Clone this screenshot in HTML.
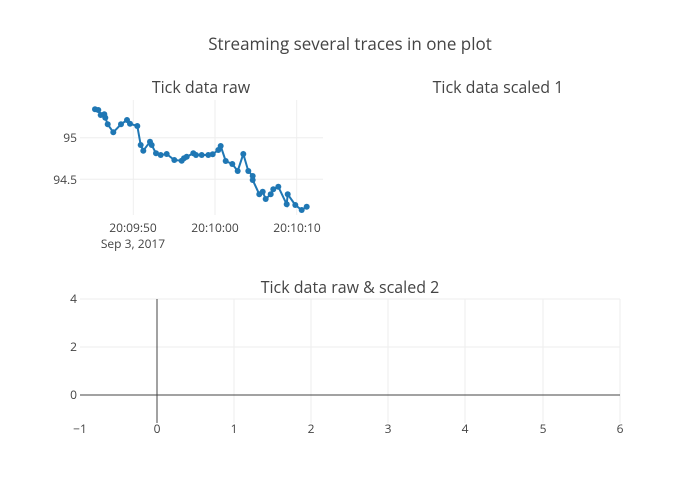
<!DOCTYPE html><html><head><style>body{margin:0;background:#fff}svg{display:block}text{font-family:"Open Sans","Liberation Sans",sans-serif;fill:#444}</style></head><body>
<svg width="700" height="500" xmlns="http://www.w3.org/2000/svg">
<text x="350" y="50" font-size="17" text-anchor="middle">Streaming several traces in one plot</text>
<text x="201" y="93" font-size="16" text-anchor="middle">Tick data raw</text>
<text x="498" y="93" font-size="16" text-anchor="middle">Tick data scaled 1</text>
<text x="350" y="293" font-size="16" text-anchor="middle">Tick data raw &amp; scaled 2</text>
<g stroke="#eee" stroke-width="1">
<line x1="80" x2="323" y1="137.7" y2="137.7"/><line x1="80" x2="323" y1="179.3" y2="179.3"/>
<line x1="133.3" x2="133.3" y1="100" y2="215"/><line x1="215" x2="215" y1="100" y2="215"/><line x1="296.7" x2="296.7" y1="100" y2="215"/>
<line x1="80" x2="620" y1="299" y2="299"/><line x1="80" x2="620" y1="347" y2="347"/>
<line x1="234" x2="234" y1="299" y2="423"/><line x1="311" x2="311" y1="299" y2="423"/><line x1="388" x2="388" y1="299" y2="423"/><line x1="465" x2="465" y1="299" y2="423"/><line x1="543" x2="543" y1="299" y2="423"/><line x1="620" x2="620" y1="299" y2="423"/>
</g>
<line x1="157" x2="157" y1="299" y2="423" stroke="#444"/>
<line x1="80" x2="620" y1="395" y2="395" stroke="#444"/>
<g font-size="12">
<text x="77" y="142" text-anchor="end">95</text><text x="77" y="184" text-anchor="end">94.5</text>
<text x="133" y="232" text-anchor="middle">20:09:50</text><text x="133" y="248" text-anchor="middle">Sep 3, 2017</text>
<text x="215" y="232" text-anchor="middle">20:10:00</text><text x="297" y="232" text-anchor="middle">20:10:10</text>
<text x="77" y="303" text-anchor="end">4</text><text x="77" y="351" text-anchor="end">2</text><text x="77" y="399" text-anchor="end">0</text>
<text x="80" y="433" text-anchor="middle">−1</text><text x="157" y="433" text-anchor="middle">0</text><text x="234" y="433" text-anchor="middle">1</text><text x="311" y="433" text-anchor="middle">2</text><text x="388" y="433" text-anchor="middle">3</text><text x="465" y="433" text-anchor="middle">4</text><text x="543" y="433" text-anchor="middle">5</text><text x="620" y="433" text-anchor="middle">6</text>
</g>
<g id="d" fill="#1f77b4" stroke="none"></g>
<polyline id="p" fill="none" stroke="#1f77b4" stroke-width="2" points="95,109.3 98.3,110 100.7,115 104.3,114.3 105.3,117.7 107.7,124.3 113.3,132.3 121,124.3 127,120 130,123.7 137.3,126 140.7,145 143.3,150.7 150,141.7 151.7,145 156,153.3 160.7,155 166.7,154 174.3,160 181.7,160.7 184,158.3 186.7,156.7 193.3,153.3 196,155 201.7,155 208.3,155 212.7,154.3 218.3,150 220.7,146 225.7,161 232.3,164 237.7,171 243.3,154 248.3,171 252.7,176 252.7,180 259.3,194.3 262.7,191.7 265.7,199 270.7,194.3 273.3,189.3 278.3,186.7 286.7,204.3 287.7,194.3 295.3,205 301.7,210 306.7,206.7"/>
<g fill="#1f77b4">
<circle cx="95" cy="109.3" r="3"/><circle cx="98.3" cy="110" r="3"/><circle cx="100.7" cy="115" r="3"/><circle cx="104.3" cy="114.3" r="3"/><circle cx="105.3" cy="117.7" r="3"/><circle cx="107.7" cy="124.3" r="3"/><circle cx="113.3" cy="132.3" r="3"/><circle cx="121" cy="124.3" r="3"/><circle cx="127" cy="120" r="3"/><circle cx="130" cy="123.7" r="3"/><circle cx="137.3" cy="126" r="3"/><circle cx="140.7" cy="145" r="3"/><circle cx="143.3" cy="150.7" r="3"/><circle cx="150" cy="141.7" r="3"/><circle cx="151.7" cy="145" r="3"/><circle cx="156" cy="153.3" r="3"/><circle cx="160.7" cy="155" r="3"/><circle cx="166.7" cy="154" r="3"/><circle cx="174.3" cy="160" r="3"/><circle cx="181.7" cy="160.7" r="3"/><circle cx="184" cy="158.3" r="3"/><circle cx="186.7" cy="156.7" r="3"/><circle cx="193.3" cy="153.3" r="3"/><circle cx="196" cy="155" r="3"/><circle cx="201.7" cy="155" r="3"/><circle cx="208.3" cy="155" r="3"/><circle cx="212.7" cy="154.3" r="3"/><circle cx="218.3" cy="150" r="3"/><circle cx="220.7" cy="146" r="3"/><circle cx="225.7" cy="161" r="3"/><circle cx="232.3" cy="164" r="3"/><circle cx="237.7" cy="171" r="3"/><circle cx="243.3" cy="154" r="3"/><circle cx="248.3" cy="171" r="3"/><circle cx="252.7" cy="176" r="3"/><circle cx="252.7" cy="180" r="3"/><circle cx="259.3" cy="194.3" r="3"/><circle cx="262.7" cy="191.7" r="3"/><circle cx="265.7" cy="199" r="3"/><circle cx="270.7" cy="194.3" r="3"/><circle cx="273.3" cy="189.3" r="3"/><circle cx="278.3" cy="186.7" r="3"/><circle cx="286.7" cy="204.3" r="3"/><circle cx="287.7" cy="194.3" r="3"/><circle cx="295.3" cy="205" r="3"/><circle cx="301.7" cy="210" r="3"/><circle cx="306.7" cy="206.7" r="3"/>
</g>
</svg></body></html>
